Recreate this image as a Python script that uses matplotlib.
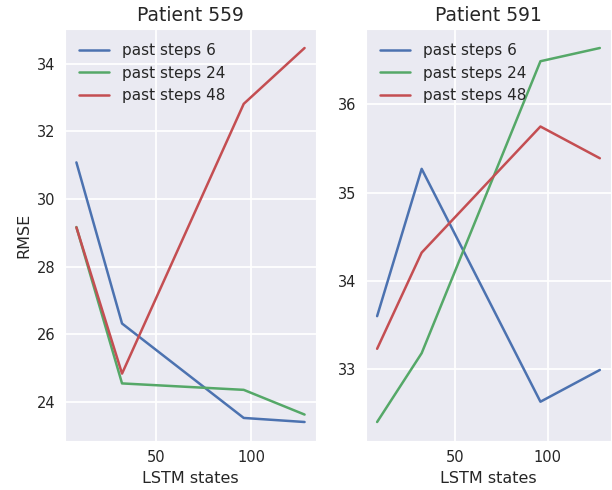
import matplotlib
matplotlib.use('Agg')
import matplotlib.pyplot as plt
import seaborn as sns

sns.set_style('darkgrid')
plt.rcParams['font.family'] = ['DejaVu Sans']
plt.rcParams['grid.linewidth'] = 1.3

lstm_states = [8, 32, 96, 128]
series_labels = ['past steps 6', 'past steps 24', 'past steps 48']

# Patient 559
rmse_559 = [
    [31.08, 26.32, 23.53, 23.41],
    [29.17, 24.55, 24.36, 23.63],
    [29.16, 24.84, 32.81, 34.46],
]

# Patient 591
rmse_591 = [
    [33.60, 35.27, 32.63, 32.99],
    [32.40, 33.18, 36.49, 36.64],
    [33.23, 34.32, 35.75, 35.39],
]

colors = ['#4C72B0', '#55A868', '#C44E52']

fig = plt.figure(figsize=(6.12, 4.9), dpi=100)
ax1 = fig.add_axes([0.1062, 0.1006, 0.4101, 0.8396])
ax2 = fig.add_axes([0.598, 0.1006, 0.4003, 0.8396])

for ax, data, title in [(ax1, rmse_559, 'Patient 559'), (ax2, rmse_591, 'Patient 591')]:
    for vals, lab, c in zip(data, series_labels, colors):
        ax.plot(lstm_states, vals, color=c, label=lab, linewidth=1.8)
    ax.set_title(title, fontsize=13.5, color='.15')
    ax.set_xlabel('LSTM states', fontsize=11.5, color='.15')
    ax.tick_params(labelsize=10.5, colors='.15')
    ax.legend(loc='upper left', fontsize=11, frameon=False)

ax1.set_ylabel('RMSE', fontsize=11.5, color='.15')
ax1.set_yticks([24, 26, 28, 30, 32, 34])
ax2.set_yticks([33, 34, 35, 36])
for ax in (ax1, ax2):
    ax.set_xticks([50, 100])

fig.savefig('out.png', dpi=100)
